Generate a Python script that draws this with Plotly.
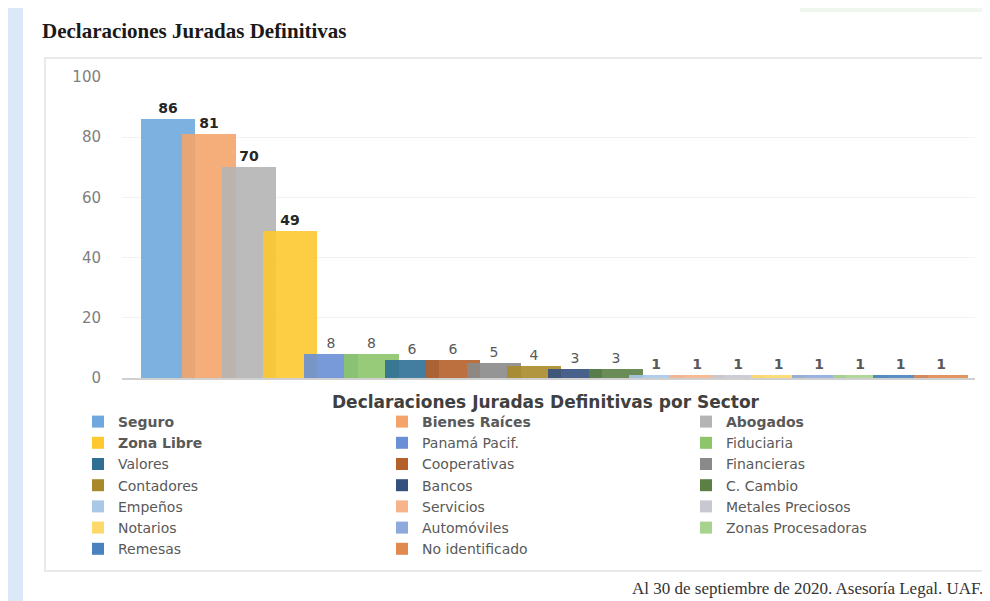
import plotly.graph_objects as go

# Declaraciones Juradas Definitivas por sector (al 30 de septiembre de 2020)
sectores = ['Seguro', 'Bienes Raíces', 'Abogados', 'Zona Libre', 'Panamá Pacif.',
            'Fiduciaria', 'Valores', 'Cooperativas', 'Financieras', 'Contadores',
            'Bancos', 'C. Cambio', 'Empeños', 'Servicios', 'Metales Preciosos',
            'Notarios', 'Automóviles', 'Zonas Procesadoras', 'Remesas', 'No identificado']
valores = [86, 81, 70, 49, 8, 8, 6, 6, 5, 4, 3, 3, 1, 1, 1, 1, 1, 1, 1, 1]
destacados = ['Seguro', 'Bienes Raíces', 'Abogados', 'Zona Libre']
colores = ['#6fa8dc', '#f4a46a', '#b4b4b4', '#fdc92f', '#6a8fd4',
           '#8cc56a', '#2f6f96', '#b5602a', '#8a8a8a', '#a8892a',
           '#34507e', '#5b7f45', '#a9c8e8', '#f5b48a', '#c8c8d0',
           '#fdd86a', '#8eaadc', '#a8d38e', '#4a82c0', '#e08a50']

# page body has an 8px margin, so the figure is made smaller and everything is laid out in window pixels
OFF = 8
W, H = 990 - OFF, 601 - OFF
L, R, T, B = 122 - OFF, 15, 77 - OFF, 223
PW, PH = W - L - R, H - T - B
def px(p): return (p - OFF - L) / PW
def py(p): return (H - B - (p - OFF)) / PH

SANS = 'DejaVu Sans'
SERIF = 'Liberation Serif'
BAR_W = 1.33

fig = go.Figure()
for i, (s, v, c) in enumerate(zip(sectores, valores, colores)):
    top = s in destacados
    fig.add_trace(go.Bar(
        x=[i], y=[v], width=BAR_W,
        name=f'<b>{s}</b>' if top else s,
        marker=dict(color=c, opacity=0.9, line_width=0),
        text=[f'<b>{v}</b>' if top or v == 1 else str(v)],
        textposition='outside', cliponaxis=False,
        textfont=dict(family=SANS, size=14, color='#262626' if top else '#595959'),
        hoverinfo='name+y'))

shapes = [
    dict(type='rect', xref='paper', yref='paper', x0=px(0), x1=px(23), y0=py(601), y1=py(0),
         fillcolor='#dce8f5', line_width=0, layer='below'),
    dict(type='rect', xref='paper', yref='paper', x0=px(800), x1=px(995), y0=py(12), y1=py(0),
         fillcolor='#eef6ee', line_width=0, layer='below'),
    dict(type='rect', xref='paper', yref='paper', x0=px(45), x1=px(995), y0=py(571), y1=py(58),
         fillcolor='rgba(0,0,0,0)', line=dict(color='#e3e3e3', width=1.5), layer='below'),
]

fig.update_layout(
    width=W, height=H, margin=dict(l=L, r=R, t=T, b=B),
    paper_bgcolor='white', plot_bgcolor='white',
    barmode='overlay', bargap=0,
    shapes=shapes,
    xaxis=dict(range=[-1.13, 19.83], showticklabels=False, showgrid=False, zeroline=False,
               showline=True, linecolor='#d0d0d0', linewidth=1.5, ticks=''),
    yaxis=dict(range=[0, 100], dtick=20, showgrid=True, gridcolor='#f2f2f2', zeroline=False,
               showline=False, ticks='', ticklabelstandoff=20,
               tickfont=dict(family=SANS, size=15, color='#7f7f7f')),
    legend=dict(orientation='h', traceorder='normal', entrywidth=259, entrywidthmode='pixels',
                x=px(113), y=py(406), xanchor='left', yanchor='top',
                bgcolor='rgba(0,0,0,0)', font=dict(family=SANS, size=14, color='#595959')),
    annotations=[
        dict(text='<b>Declaraciones Juradas Definitivas</b>', xref='paper', yref='paper',
             x=px(40), y=py(31), xanchor='left', yanchor='middle', showarrow=False,
             font=dict(family=SERIF, size=21, color='#1a1a1a')),
        dict(text='<b>Declaraciones Juradas Definitivas por Sector</b>', xref='paper', yref='paper',
             x=px(546), y=py(402), xanchor='center', yanchor='middle', showarrow=False,
             font=dict(family=SANS, size=17, color='#404040')),
        dict(text='Al 30 de septiembre de 2020. Asesoría Legal. UAF.', xref='paper', yref='paper',
             x=px(985), y=py(588), xanchor='right', yanchor='middle', showarrow=False,
             font=dict(family=SERIF, size=17, color='#333333')),
    ],
)

fig.write_html('out.html')
